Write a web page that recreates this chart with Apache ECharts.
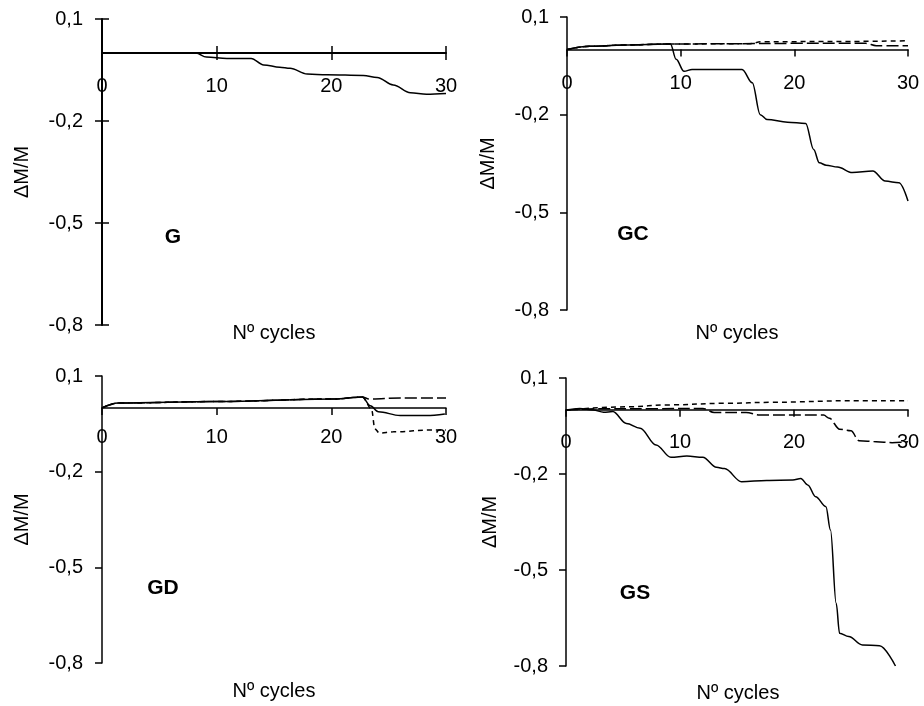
<!DOCTYPE html>
<html>
<head>
<meta charset="utf-8">
<title>Mass change vs cycles</title>
<script src="https://cdn.jsdelivr.net/npm/echarts@6/dist/echarts.min.js"></script>
<style>
html, body { margin: 0; padding: 0; background: #fff; }
#main { width: 924px; height: 706px; }
</style>
</head>
<body>
<div id="main"></div>
<script>
// tick values of the axes
var xTicks = [0, 10, 20, 30];
var yTicks = [-0.8, -0.5, -0.2, 0.1];

// G
var gSolidX = [0, 8.2, 9.1, 10.9, 13.0, 14.1, 15.5, 16.4, 17.9, 19.6, 22.8, 24.0, 25.4, 26.9, 28.3, 30];
var gSolidY = [0, 0, -0.012, -0.016, -0.016, -0.035, -0.042, -0.045, -0.062, -0.064, -0.066, -0.072, -0.094, -0.117, -0.121, -0.119];

// GC
var gcSolidX = [0, 2, 5, 9.1, 9.6, 10.3, 11, 15.4, 16.3, 17.0, 17.6, 19.4, 21.0, 21.7, 22.2, 22.8, 23.8, 25.1, 26.9, 28.0, 29.2, 30];
var gcSolidY = [0, 0.01, 0.014, 0.017, -0.03, -0.067, -0.061, -0.061, -0.102, -0.2, -0.215, -0.223, -0.227, -0.307, -0.348, -0.355, -0.361, -0.378, -0.373, -0.404, -0.409, -0.465];
var gcLongX = [0, 2, 5, 9, 15, 20, 26.3, 27.2, 30];
var gcLongY = [0, 0.01, 0.014, 0.017, 0.018, 0.019, 0.019, 0.012, 0.012];
var gcShortX = [0, 2, 5, 9, 16, 17.2, 25, 30];
var gcShortY = [0, 0.01, 0.014, 0.017, 0.018, 0.024, 0.025, 0.027];

// GD
var gdSolidX = [0, 1.4, 10.1, 20.2, 22.7, 23.4, 24.1, 26.0, 28.3, 29.9];
var gdSolidY = [0, 0.015, 0.02, 0.028, 0.034, 0.007, -0.012, -0.024, -0.024, -0.019];
var gdLongX = [0, 1.4, 10.1, 20.2, 22.7, 23.3, 26, 30];
var gdLongY = [0, 0.015, 0.02, 0.028, 0.034, 0.028, 0.031, 0.031];
var gdShortX = [0, 1.4, 10.1, 20.2, 22.7, 23.5, 23.8, 24.2, 25.4, 28.9, 30];
var gdShortY = [0, 0.015, 0.02, 0.028, 0.034, -0.003, -0.066, -0.079, -0.075, -0.069, -0.069];

// GS
var gsSolidX = [0, 1.2, 2.4, 3.3, 4.1, 5.3, 6.5, 7.9, 9.2, 10.6, 12.0, 13.2, 13.9, 15.4, 17.6, 19.9, 20.6, 21.2, 21.9, 22.8, 23.2, 23.7, 24.0, 24.8, 26.0, 27.5, 28.9];
var gsSolidY = [0, 0.005, 0, -0.007, -0.005, -0.042, -0.057, -0.109, -0.148, -0.144, -0.148, -0.179, -0.183, -0.224, -0.22, -0.219, -0.214, -0.234, -0.271, -0.302, -0.375, -0.604, -0.698, -0.708, -0.734, -0.737, -0.8];
var gsLongX = [0, 3, 8, 12.0, 13.0, 15.8, 17.0, 22.6, 23.1, 24.0, 25.0, 25.7, 27.2, 28.6, 30];
var gsLongY = [0, 0.004, 0.004, 0.005, -0.008, -0.008, -0.016, -0.016, -0.026, -0.06, -0.065, -0.096, -0.099, -0.102, -0.099];
var gsShortX = [0, 5.3, 9.1, 14.0, 18.1, 24.8, 30];
var gsShortY = [0, 0.01, 0.016, 0.021, 0.024, 0.029, 0.029];

var font = "'Liberation Sans', Arial, sans-serif";
var dashes = { solid: 'solid', long: [12, 4], short: [5, 4] };

var panels = [
  { tag: 'G', grid: { left: 102, top: 19, width: 344, height: 306 }, axisW: 2,
    xMargin: 23, yMargin: 19, nameGap: 70, tagPos: [173, 237], cycPos: [274, 333],
    lines: [[gSolidX, gSolidY, 'solid']] },
  { tag: 'GC', grid: { left: 567, top: 17, width: 341, height: 293 }, axisW: 1.5,
    xMargin: 24, yMargin: 18, nameGap: 69, tagPos: [633, 234], cycPos: [737, 333],
    lines: [[gcLongX, gcLongY, 'long'], [gcShortX, gcShortY, 'short'], [gcSolidX, gcSolidY, 'solid']] },
  { tag: 'GD', grid: { left: 102, top: 376, width: 344, height: 287 }, axisW: 1.5,
    xMargin: 20, yMargin: 19, nameGap: 70, tagPos: [163, 588], cycPos: [274, 691],
    lines: [[gdLongX, gdLongY, 'long'], [gdShortX, gdShortY, 'short'], [gdSolidX, gdSolidY, 'solid']] },
  { tag: 'GS', grid: { left: 566, top: 378, width: 342, height: 288 }, axisW: 1.5,
    xMargin: 23, yMargin: 18, nameGap: 66, tagPos: [635, 593], cycPos: [738, 693],
    lines: [[gsLongX, gsLongY, 'long'], [gsShortX, gsShortY, 'short'], [gsSolidX, gsSolidY, 'solid']] }
];

function pairs(xs, ys) {
  var out = [];
  for (var i = 0; i < xs.length; i++) out.push([xs[i], ys[i]]);
  return out;
}

function comma(v) {
  return (Math.round(v * 10) / 10).toString().replace('.', ',');
}

var yStep = Math.round((yTicks[1] - yTicks[0]) * 10) / 10;
var xStep = xTicks[1] - xTicks[0];

var option = {
  animation: false,
  backgroundColor: '#fff',
  textStyle: { fontFamily: font },
  grid: [], xAxis: [], yAxis: [], series: [], graphic: []
};

panels.forEach(function (p, i) {
  option.grid.push({ left: p.grid.left, top: p.grid.top, width: p.grid.width, height: p.grid.height });
  option.xAxis.push({
    type: 'value', gridIndex: i, min: xTicks[0], max: xTicks[xTicks.length - 1], interval: xStep,
    position: 'bottom', offset: 0,
    axisLine: { onZero: false, lineStyle: { color: '#000', width: p.axisW } },
    axisTick: { show: true, length: 7, lineStyle: { color: '#000', width: 1.5 } },
    axisLabel: { color: '#000', fontSize: 20, fontFamily: font, margin: p.xMargin, showMinLabel: true, showMaxLabel: true },
    splitLine: { show: false }
  });
  option.yAxis.push({
    type: 'value', gridIndex: i, min: yTicks[0], max: yTicks[yTicks.length - 1], interval: yStep,
    name: 'ΔM/M', nameLocation: 'middle', nameGap: p.nameGap, nameRotate: 90,
    nameTextStyle: { color: '#000', fontSize: 20, fontFamily: font },
    axisLine: { show: true, lineStyle: { color: '#000', width: p.axisW } },
    axisTick: { show: true, length: 7, lineStyle: { color: '#000', width: 1.5 } },
    axisLabel: { color: '#000', fontSize: 20, fontFamily: font, margin: p.yMargin, formatter: comma, showMinLabel: true, showMaxLabel: true },
    splitLine: { show: false }
  });
  p.lines.forEach(function (l) {
    option.series.push({
      type: 'line', xAxisIndex: i, yAxisIndex: i, data: pairs(l[0], l[1]),
      showSymbol: false, smooth: 0.35, smoothMonotone: 'x',
      lineStyle: { color: '#000', width: 1.5, type: dashes[l[2]] }
    });
  });
  option.graphic.push({
    type: 'text', x: p.cycPos[0], y: p.cycPos[1],
    style: { text: 'Nº cycles', font: '20px ' + font, fill: '#000', textAlign: 'center', textVerticalAlign: 'middle' }
  });
  option.graphic.push({
    type: 'text', x: p.tagPos[0], y: p.tagPos[1],
    style: { text: p.tag, font: 'bold 21px ' + font, fill: '#000', textAlign: 'center', textVerticalAlign: 'middle' }
  });
});

// first panel has ticks crossing the axes: extra axes with inside ticks
option.xAxis.push({
  type: 'value', gridIndex: 0, min: xTicks[0], max: xTicks[xTicks.length - 1], interval: xStep,
  position: 'bottom', offset: 0,
  axisLine: { show: false, onZero: false },
  axisTick: { show: true, inside: true, length: 7, lineStyle: { color: '#000', width: 1.5 } },
  axisLabel: { show: false }, splitLine: { show: false }
});
option.yAxis.push({
  type: 'value', gridIndex: 0, min: yTicks[0], max: yTicks[yTicks.length - 1], interval: yStep, position: 'left',
  axisLine: { show: false },
  axisTick: { show: true, inside: true, length: 7, lineStyle: { color: '#000', width: 1.5 } },
  axisLabel: { show: false }, splitLine: { show: false }
});

var myChart = echarts.init(document.getElementById('main'));
myChart.setOption(option);

// move each x axis (line, ticks and labels) up to y = 0
var xs = [];
panels.forEach(function (p, i) {
  var zeroY = myChart.convertToPixel({ gridIndex: i }, [0, 0])[1];
  xs.push({ offset: zeroY - (p.grid.top + p.grid.height) });
});
xs.push({ offset: xs[0].offset });
myChart.setOption({ xAxis: xs });
</script>
</body>
</html>
